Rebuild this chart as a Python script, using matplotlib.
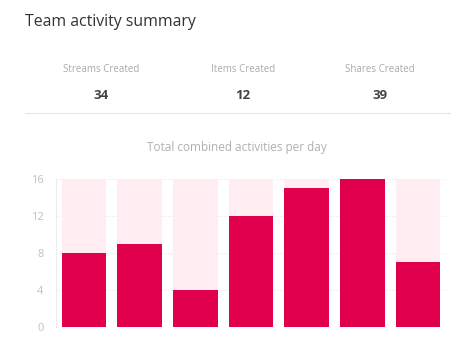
import numpy as np
from matplotlib import pyplot as plt

plt.rcParams['font.family'] = ['Open Sans', 'DejaVu Sans']

# summary numbers
stat_labels = ['Streams Created', 'Items Created', 'Shares Created']
stat_values = [34, 12, 39]

# activities per day
days = np.arange(7)
activity = [8, 9, 4, 12, 15, 16, 7]
max_val = 16
yticks = [0, 4, 8, 12, 16]

dark = '#e0004d'
light = '#ffedf2'

fig = plt.figure(figsize=(4.75, 3.39), dpi=100)
W, H = 475, 339

fig.text(25 / W, 1 - 22 / H, 'Team activity summary', fontsize=11.4, color='#333333',
         va='center', ha='left')

stat_x = [101, 243, 380]
for sx, lab, val in zip(stat_x, stat_labels, stat_values):
    fig.text(sx / W, 1 - 69 / H, lab, fontsize=7, color='#aaaaaa', ha='center', va='center')
    fig.text(sx / W, 1 - 95 / H, str(val), fontsize=9.5, color='#444444', ha='center',
             va='center', fontweight='bold')

fig.add_artist(plt.Line2D([25 / W, 450 / W], [1 - 113 / H, 1 - 113 / H],
                          color='#e6e6e6', linewidth=0.8))

fig.text(237 / W, 1 - 148 / H, 'Total combined activities per day', fontsize=8.5,
         color='#b0b0b0', ha='center', va='center')

ax = fig.add_axes([56 / W, 1 - 327 / H, 390 / W, 148 / H])
ax.bar(days, [max_val] * len(days), width=0.8, color=light, zorder=2)
ax.bar(days, activity, width=0.8, color=dark, zorder=3)
ax.set_xlim(-0.5, 6.5)
ax.set_ylim(0, max_val)
ax.set_yticks(yticks)
ax.set_xticks([])
for t in yticks:
    ax.axhline(t, color='#e8e8e8', linestyle=':', linewidth=0.8, zorder=1)
for s in ['top', 'right', 'bottom']:
    ax.spines[s].set_visible(False)
ax.spines['left'].set_linestyle(':')
ax.spines['left'].set_color('#e8e8e8')
ax.tick_params(axis='y', length=0, pad=9, labelsize=8, labelcolor='#c0c0c0')

fig.savefig('out.png', dpi=100)
